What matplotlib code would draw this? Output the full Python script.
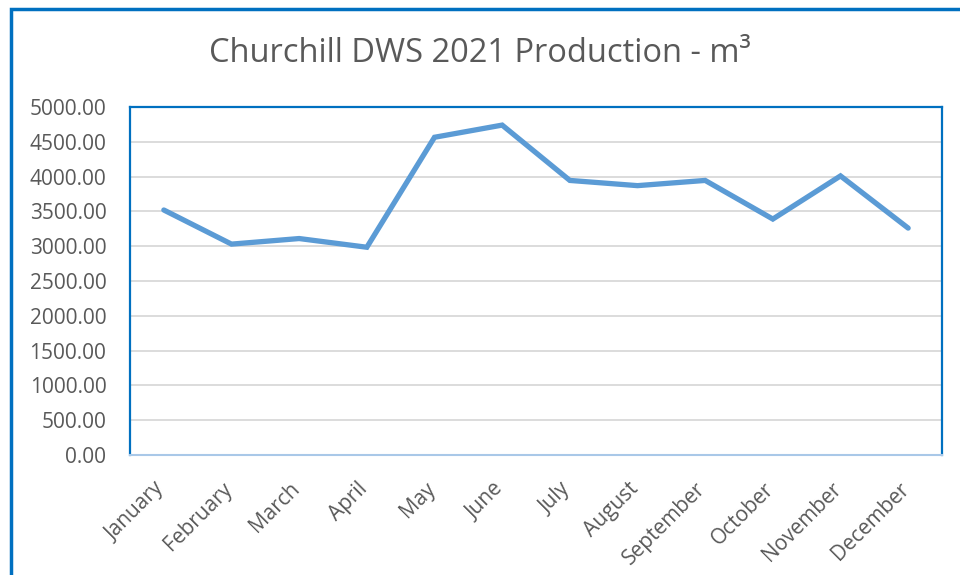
import matplotlib
matplotlib.use('Agg')
import matplotlib.pyplot as plt
import matplotlib.transforms as mtransforms
from matplotlib.lines import Line2D

# Dades
mesos = ['January', 'February', 'March', 'April', 'May', 'June', 'July',
         'August', 'September', 'October', 'November', 'December']
produccio = [3520, 3030, 3110, 2985, 4565, 4740, 3945, 3870, 3945, 3390, 4010, 3260]
y_ticks = [0, 500, 1000, 1500, 2000, 2500, 3000, 3500, 4000, 4500, 5000]

GRIS_TEXT = '#595959'
BLAU_VORA = '#0070C0'
BLAU_LINIA = '#5B9BD5'

plt.rcParams['font.family'] = ['Open Sans', 'DejaVu Sans']

fig = plt.figure(figsize=(9.6, 5.75), dpi=100)
ax = fig.add_axes([130 / 960, 1 - 455 / 575, 812 / 960, 348 / 575])

# Vora exterior del gràfic (retallada a dreta i a baix)
x0 = 11 / 960
y0 = 1 - 9 / 575
fig.add_artist(Line2D([x0, x0, 1.0], [0.0, y0, y0], transform=fig.transFigure,
                      color=BLAU_VORA, linewidth=2.5, solid_joinstyle='miter'))

ax.plot(range(len(mesos)), produccio, color=BLAU_LINIA, linewidth=3.8,
        solid_joinstyle='miter', solid_capstyle='round', zorder=3)

ax.set_xlim(-0.5, len(mesos) - 0.5)
ax.set_ylim(0, 5000)
ax.set_yticks(y_ticks)
ax.set_yticklabels([f'{v:.2f}' for v in y_ticks])
ax.set_xticks(range(len(mesos)))
ax.set_xticklabels(mesos, rotation=45, ha='right', va='top')

ax.tick_params(axis='y', length=0, pad=17, labelsize=15, labelcolor=GRIS_TEXT)
ax.tick_params(axis='x', length=0, pad=17, labelsize=15, labelcolor=GRIS_TEXT)

# desplaçament petit cap a la dreta de les etiquetes rotades
despl = mtransforms.ScaledTranslation(5 / 100, 0, fig.dpi_scale_trans)
for lbl in ax.get_xticklabels():
    lbl.set_transform(lbl.get_transform() + despl)

ax.grid(axis='y', color='#D9D9D9', linewidth=1.3)
ax.set_axisbelow(True)

for s in ['left', 'top', 'right']:
    ax.spines[s].set_color(BLAU_VORA)
    ax.spines[s].set_linewidth(1.6)
ax.spines['bottom'].set_color('#A9C8E8')
ax.spines['bottom'].set_linewidth(1.5)

fig.text(0.5, 1 - 53 / 575, 'Churchill DWS 2021 Production - m³', ha='center', va='center',
         fontsize=23.5, color=GRIS_TEXT)

fig.savefig('out.png', dpi=100)
